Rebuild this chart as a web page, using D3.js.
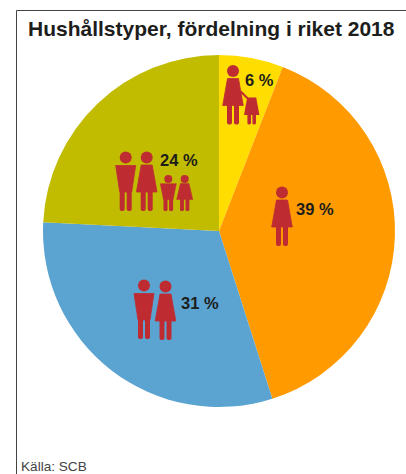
<!DOCTYPE html>
<html lang="sv">
<head>
<meta charset="utf-8"/>
<title>Hushållstyper</title>
<script src="https://d3js.org/d3.v7.min.js"></script>
<style>
	html, body { margin: 0; padding: 0; background: #fff; }
	svg { display: block; }
	text { font-family: "Liberation Sans", Arial, sans-serif; fill: #1d1d1b; }
	.title { font-size: 21px; font-weight: bold; }
	.pct { font-size: 16.5px; font-weight: bold; }
	.source { font-size: 13.6px; fill: #444; }
</style>
</head>
<body>
<div id="chart"></div>
<script>
	// data
	var titleText = "Hushållstyper, fördelning i riket 2018";
	var sourceText = "Källa: SCB";
	var households = ["Ensamstående med barn", "Ensamstående", "Par utan barn", "Par med barn"];
	// slice sizes, labels show them rounded
	var shares = [5.9, 39.2, 30.7, 24.2];
	var colors = ["#ffdd00", "#ff9b00", "#5ba3d0", "#c2bc00"];

	var width = 406, height = 474;
	var cx = 219, cy = 231, radius = 176;
	var red = "#be2c32";

	var svg = d3.select("#chart").append("svg")
		.attr("width", width)
		.attr("height", height);

	// frame, open to the right and at the bottom
	svg.append("path")
		.attr("d", "M16.5,474V10.5H406")
		.attr("fill", "none")
		.attr("stroke", "#444")
		.attr("stroke-width", 1);

	svg.append("text")
		.attr("class", "title")
		.attr("x", 28)
		.attr("y", 36)
		.text(titleText);

	var pie = d3.pie().sort(null).value(function(d) { return d; });
	var arc = d3.arc().innerRadius(0).outerRadius(radius);

	var g = svg.append("g").attr("transform", "translate(" + cx + "," + cy + ")");

	g.selectAll("path")
		.data(pie(shares))
		.enter().append("path")
		.attr("d", arc)
		.attr("fill", function(d, i) { return colors[i]; });

	// label placement per slice, in page pixels
	var labelPos = [[245, 86], [296, 215], [181, 309], [160, 166]];

	svg.selectAll("text.pct")
		.data(shares)
		.enter().append("text")
		.attr("class", "pct")
		.attr("x", function(d, i) { return labelPos[i][0]; })
		.attr("y", function(d, i) { return labelPos[i][1]; })
		.text(function(d) { return Math.round(d) + " %"; });

	// pictograms, origin between the feet
	var icons = svg.append("g").attr("fill", red);

	function legs(p, hw, gap, top) {
		[-1, 1].forEach(function(side) {
			var x0 = side < 0 ? -hw : gap;
			var w = hw - gap;
			p.append("rect")
				.attr("x", x0).attr("y", top)
				.attr("width", w).attr("height", -top)
				.attr("rx", w * 0.4);
		});
	}

	// sx/sy stretch the body, children are wider than a plain scale gives
	function person(kind, x, y, sx, sy, headR) {
		var p = icons.append("g").attr("transform", "translate(" + x + "," + y + ")");
		p.append("circle").attr("cy", -53.5 * sy).attr("r", headR);
		var b = p.append("g").attr("transform", "scale(" + sx + "," + sy + ")");
		var body = kind === "man"
			? [[-10, -45.5], [10, -45.5], [6, -19], [-6, -19]]
			: [[-5.5, -46], [5.5, -46], [10.3, -19], [-10.3, -19]];
		b.append("path")
			.attr("d", d3.line()(body) + "Z")
			.attr("stroke", red)
			.attr("stroke-width", 0.8)
			.attr("stroke-linejoin", "round");
		legs(b, 6, 1, -22);
	}

	// the child holding the hand has no separate head in the source
	function childHoldingHand(x, y) {
		var p = icons.append("g").attr("transform", "translate(" + x + "," + y + ")");
		p.append("path")
			.attr("d", d3.line()([[-4.5, -27], [4.5, -27], [7.7, -9.5], [-7.7, -9.5]]) + "Z");
		legs(p, 4.3, 0.7, -11);
		icons.append("path")
			.attr("d", d3.line()([[x - 11, y - 33], [x - 3, y - 25]]))
			.attr("fill", "none")
			.attr("stroke", red)
			.attr("stroke-width", 2);
	}

	person("woman", 233, 124.5, 1, 1, 6);
	childHoldingHand(251.7, 124.5);

	person("woman", 282, 246, 1, 1, 6);

	person("man", 144, 339, 1, 1, 6);
	person("woman", 165.5, 340, 1, 1, 6);

	person("man", 125.7, 211, 1, 1, 6);
	person("woman", 146.7, 211, 1, 1, 6);
	person("man", 168.3, 211, 0.8, 0.6, 4);
	person("woman", 184.7, 211, 0.78, 0.6, 4);

	svg.append("text")
		.attr("class", "source")
		.attr("x", 21)
		.attr("y", 471)
		.text(sourceText);
</script>
</body>
</html>
